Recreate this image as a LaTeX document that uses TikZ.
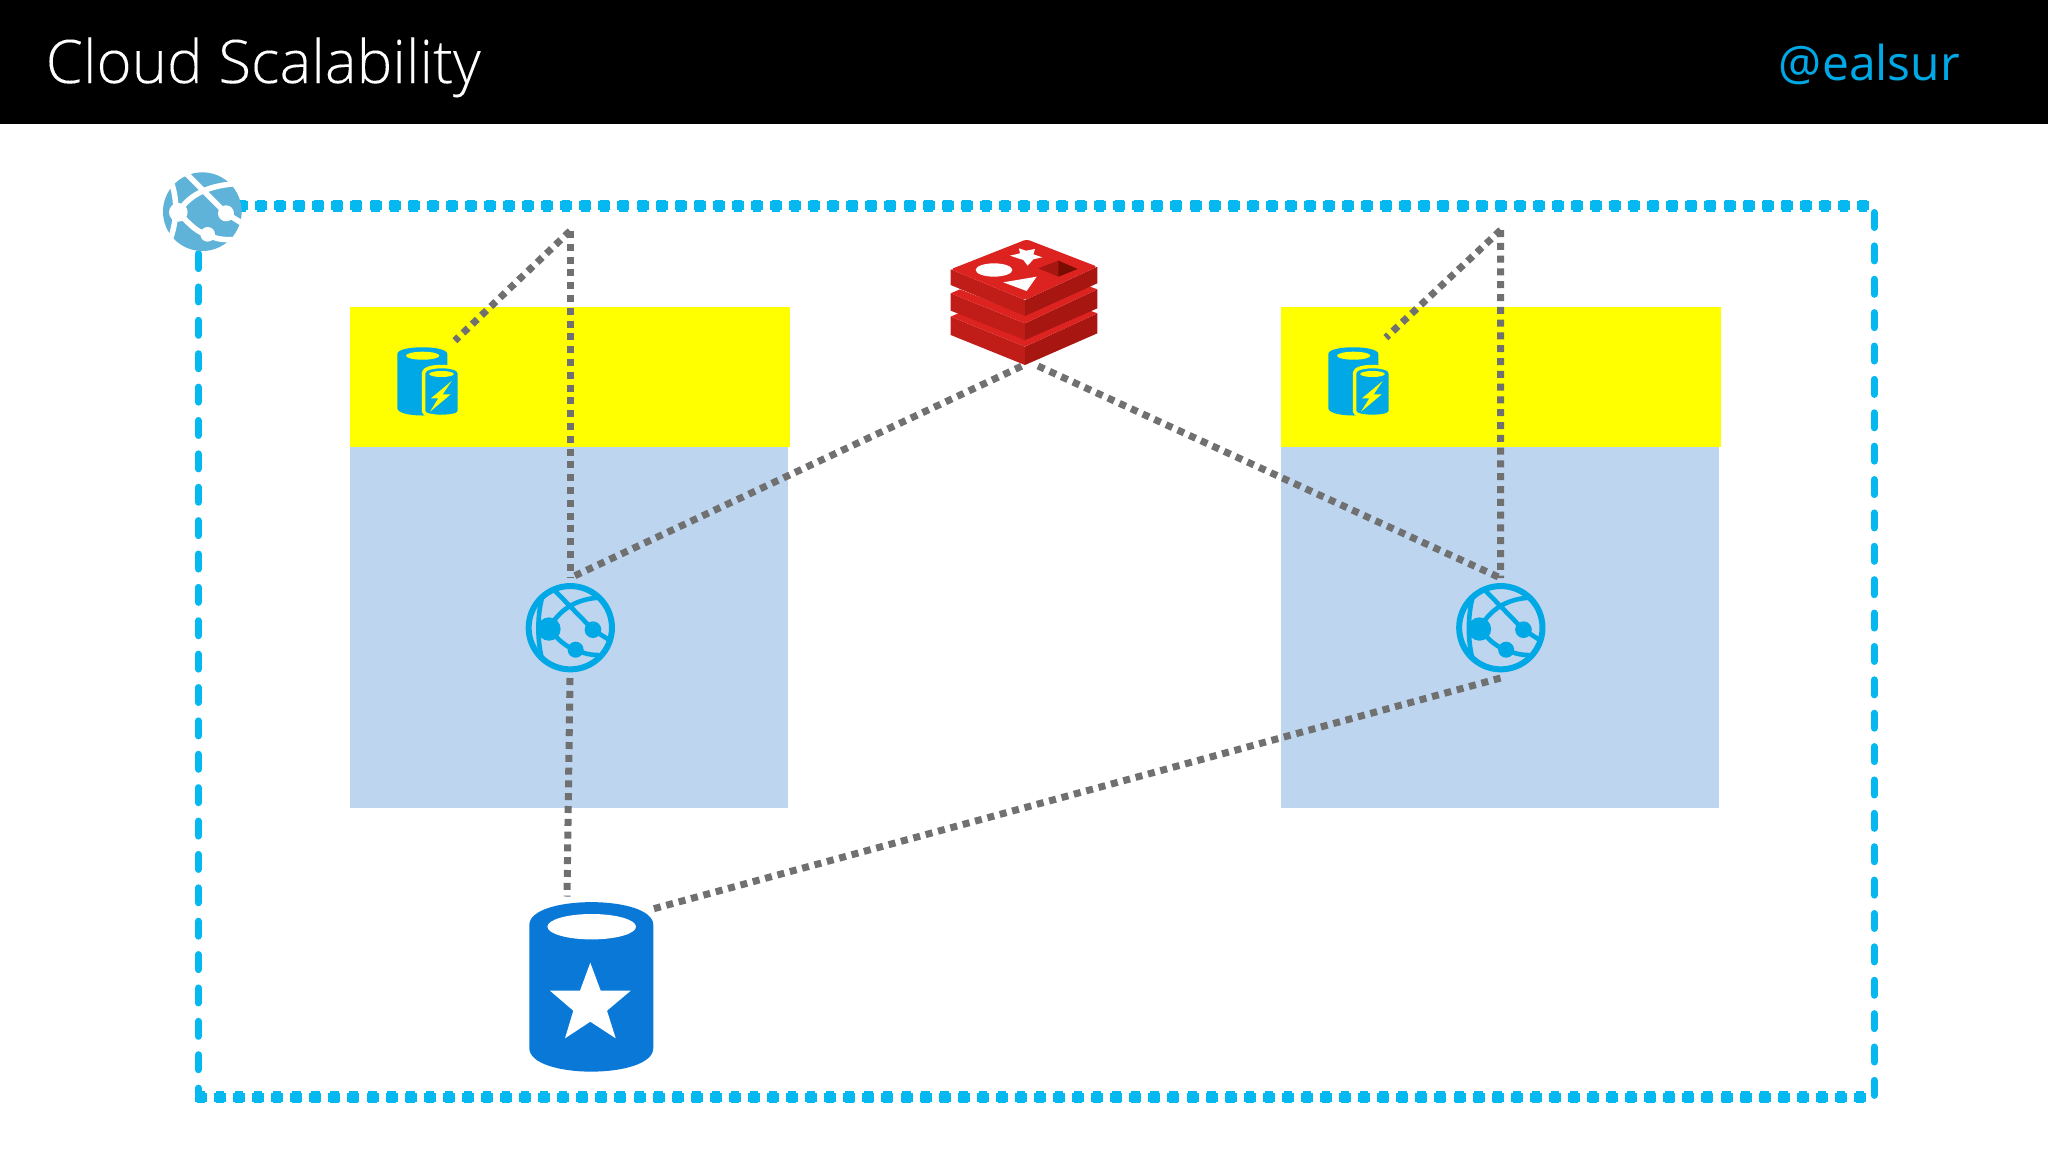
\documentclass[tikz,border=0pt]{standalone}
\usepackage{fontspec}
\setmainfont{Open Sans}
\newfontfamily\titlefont[FakeBold=0.12]{Open Sans Light}
\definecolor{bordercyan}{HTML}{05B8F0}
\definecolor{iconcyan}{HTML}{00A9E6}
\definecolor{paleglobe}{HTML}{5FB3D8}
\definecolor{linkgray}{HTML}{707070}
\definecolor{tierblue}{HTML}{BDD5EE}
\definecolor{tieryellow}{RGB}{255,255,0}
\definecolor{dbblue}{HTML}{0A78D7}
\definecolor{redistop}{HTML}{DD2320}
\definecolor{redisleft}{HTML}{C01C18}
\definecolor{redisright}{HTML}{A81612}
\definecolor{redisdark}{HTML}{7A0C00}
\tikzset{
  hside/.style={bordercyan,line width=8.5pt,dash pattern=on 12pt off 7.07pt,
    preaction={draw,bordercyan,line width=12pt,dash pattern=on 8.5pt off 10.57pt,dash phase=17.32pt}},
  vside/.style={bordercyan,line width=7pt,line cap=round,dash pattern=on 15pt off 18.38pt},
  link/.style={linkgray,line width=7pt,dash pattern=on 7pt off 5.8pt},
  tierbox/.style={inner sep=0pt,outer sep=0pt,anchor=north west},
  anchorbox/.style={circle,inner sep=0pt,outer sep=0pt,minimum size=#1},
  cache/.pic={
    \fill[iconcyan] (397.3,354) .. controls (397.3,345) and (447.3,345) .. (447.3,354)
      -- (447.3,408) .. controls (447.3,418) and (397.3,418) .. (397.3,408) -- cycle;
    \fill[tieryellow] (422.7,355.7) ellipse (16.7 and 4);
    \fill[iconcyan,draw=tieryellow,line width=3.5pt]
      (423.7,372.7) .. controls (423.7,364.5) and (459.3,364.5) .. (459.3,372.7) -- (459.3,411.7)
      .. controls (459.3,418) and (423.7,418) .. (423.7,411.7) -- cycle;
    \fill[tieryellow] (441.5,374) ellipse (12.3 and 3);
    \fill[tieryellow] (451.7,381) -- (431,398.3) -- (438.3,398.3) -- (430,411.7) -- (450.7,394.3) -- (442.7,394.3) -- cycle;
  }
}
\newcommand{\globeat}[2]{%
  \begin{scope}[shift={(#1,#2)},x=0.3333pt,y=-0.3333pt,shift={(-211,-203)}]
    \draw[iconcyan,line width=6pt] (211,203) circle (125);
    \fill[iconcyan] (147,207) circle (35) (279,209) circle (25) (227,269) circle (24);
    \draw[iconcyan,line width=4.6pt,line cap=round]
      (147,207) .. controls (175,150) and (230,115) .. (300,113)
      (165,92) -- (279,209) -- (325,238)
      (125,118) .. controls (112,170) and (112,240) .. (125,292)
      (147,207) .. controls (175,240) and (200,262) .. (227,269) .. controls (250,280) and (270,285) .. (293,285);
  \end{scope}}
\begin{document}
\begin{tikzpicture}[x=1pt,y=-1pt]
\useasboundingbox (0,0) rectangle (2048,1152);
\fill[white] (0,0) rectangle (2048,1152);
\fill[black] (0,0) rectangle (2048,123.5);
\node[anchor=base west,inner sep=0pt,text=white,font=\titlefont\fontsize{60}{70}\selectfont] (title) at (45.5,83) {Cloud Scalability};
\node[anchor=base east,inner sep=0pt,text=iconcyan,font=\fontsize{48}{58}\selectfont] (handle) at (1960,80) {@ealsur};

% tier blocks
\node[tierbox,fill=tierblue,minimum width=438pt,minimum height=361pt] (body1) at (350,447) {};
\node[tierbox,fill=tieryellow,minimum width=440pt,minimum height=140pt] (head1) at (350,307) {};
\node[tierbox,fill=tierblue,minimum width=438pt,minimum height=361pt] (body2) at (1281,447) {};
\node[tierbox,fill=tieryellow,minimum width=440pt,minimum height=140pt] (head2) at (1281,307) {};

% boundary
\coordinate (tr) at (1869,205.7);
\coordinate (tl) at (238,205.7);
\coordinate (br) at (1866,1097.3);
\coordinate (bl) at (195,1097.3);
\coordinate (ltop) at (198.3,220.2);
\coordinate (lbot) at (198.3,1093);
\coordinate (rtop) at (1874,212.5);
\coordinate (rbot) at (1874,1096);
\draw[hside] (tr) -- (tl);
\draw[hside] (br) -- (bl);
\draw[vside] (ltop) -- (lbot);
\draw[vside] (rtop) -- (rbot);

% anchors
\node[anchorbox=100pt] (web1) at (570,628) {};
\node[anchorbox=100pt] (web2) at (1500.5,628) {};
\node[anchorbox=1pt] (redis) at (1022,366) {};
\coordinate (redisR) at (1038,366);
\coordinate (apex1) at (570,231);
\coordinate (apex2) at (1500.7,230);
\node[anchorbox=1pt] (cache1) at (454.5,341) {};
\node[anchorbox=1pt] (cache2) at (1385.5,338) {};
\node[anchorbox=1pt] (dbA) at (567,897) {};
\node[anchorbox=1pt] (dbB) at (649,910) {};

% links
\draw[link] (apex1) -- (cache1);
\draw[link] (apex1) -- (web1.north);
\draw[link] (apex2) -- (cache2);
\draw[link] (apex2) -- (web2.north);
\draw[link] (redis) -- (web1.north);
\draw[link] (redisR) -- (web2.north);
\draw[link] (web1.south) -- (dbA);
\draw[link] (web2.south) -- (dbB);

% icons
\globeat{570.3}{627.7}
\globeat{1500.8}{627.7}
\pic at (0,0) {cache};
\pic at (931,0) {cache};

% database
\fill[dbblue] (529.3,925) .. controls (529.3,894.5) and (653.3,894.5) .. (653.3,925)
  -- (653.3,1048) .. controls (653.3,1079.5) and (529.3,1079.5) .. (529.3,1048) -- cycle;
\fill[white] (591.7,926.7) ellipse (44.3 and 12.7);
\fill[white] (590.3,962.7) -- (600.7,990.7) -- (630.7,990.7) -- (607,1010.7) -- (615.7,1038.3)
  -- (590.3,1021.7) -- (565,1038.3) -- (573.3,1010.7) -- (550,990.7) -- (580,990.7) -- cycle;

% redis
\begin{scope}[shift={(920,220)},x=0.3333pt,y=-0.3333pt]
  % bottom layer
  \fill[redisleft] (92,290) -- (315,380) -- (315,435) -- (92,345) -- cycle;
  \fill[redisright] (532,280) -- (315,380) -- (315,435) -- (532,340) -- cycle;
  \fill[redistop] (92,290) -- (120,278) -- (315,355) -- (505,270) -- (532,280) -- (315,380) -- cycle;
  % middle layer
  \fill[redisleft] (92,220) -- (315,310) -- (315,360) -- (92,272) -- cycle;
  \fill[redisright] (532,208) -- (315,310) -- (315,360) -- (532,265) -- cycle;
  \fill[redistop] (92,220) -- (120,208) -- (315,285) -- (505,198) -- (532,208) -- (315,310) -- cycle;
  % top layer
  \fill[redisleft] (92,148) -- (315,240) -- (315,288) -- (92,195) -- cycle;
  \fill[redisright] (532,140) -- (315,240) -- (315,288) -- (532,190) -- cycle;
  \fill[redistop,rounded corners=3pt] (320,58) -- (532,140) -- (315,240) -- (92,148) -- cycle;
  \fill[white] (222,150) ellipse (55 and 20);
  \fill[white] (250,187) -- (350,170) -- (320,213) -- cycle;
  \fill[white] (297,85) -- (318,92) -- (345,87) -- (340,103) -- (367,112) -- (340,118) -- (323,137) -- (310,120) -- (270,107) -- (300,100) -- cycle;
  \fill[redisright] (355,145) -- (415,122) -- (472,147) -- (415,170) -- cycle;
  \fill[redisdark] (415,122) -- (472,147) -- (415,170) -- cycle;
\end{scope}

% corner globe
\begin{scope}[shift={(140,150)},x=0.3333pt,y=-0.3333pt]
  \begin{scope}
    \clip (187,185) circle (119);
    \fill[paleglobe] (187,185) circle (118);
    \draw[white,line width=5.5pt,line cap=round]
      (140,72) -- (258,190) -- (310,222)
      (115,187) .. controls (150,130) and (210,105) .. (300,100)
      (95,100) .. controls (112,150) and (112,210) .. (90,270)
      (115,187) .. controls (150,225) and (175,250) .. (203,253) .. controls (230,270) and (255,270) .. (300,268);
    \fill[white] (115,187) circle (28) (258,190) circle (24) (203,253) circle (22);
  \end{scope}
\end{scope}
\end{tikzpicture}
\end{document}
